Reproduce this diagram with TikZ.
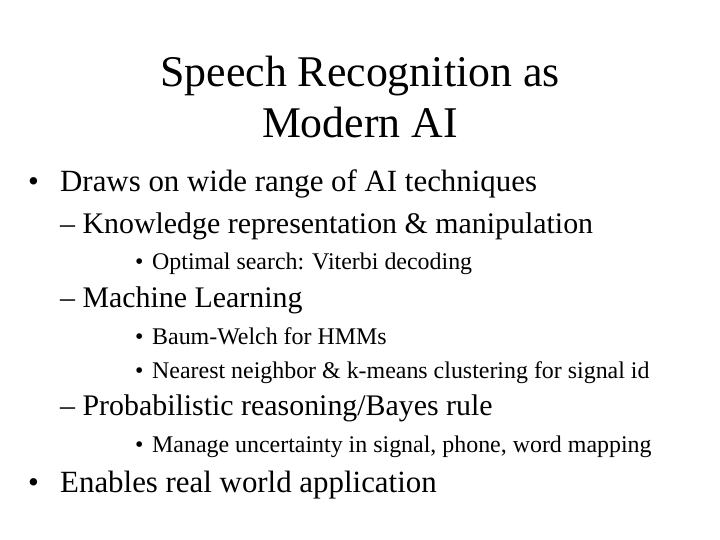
\documentclass[tikz,border=0pt]{standalone}
\usepackage{fontspec}
\setmainfont{Liberation Serif}
\begin{document}
\begin{tikzpicture}[x=1bp,y=-1bp,
  every node/.style={inner sep=0pt,anchor=base west},
  title/.style={font=\fontsize{44}{44}\selectfont,anchor=base},
  lone/.style={font=\fontsize{31}{31}\selectfont},
  ltwo/.style={font=\fontsize{30}{30}\selectfont},
  lthree/.style={font=\fontsize{24}{24}\selectfont}]
  \useasboundingbox (0,0) rectangle (720,540);
  \node[title] (t1) at (360,87) {Speech Recognition as};
  \node[title] (t2) at (360,138) {Modern AI};
  % first level
  \node[lone] (b1) at (28,192) {\textbullet};
  \node[lone] (a1) at (60,192) {Draws on wide range of AI techniques};
  \node[ltwo] (a2) at (60,234) {– Knowledge representation \& manipulation};
  \node[lthree] (b3) at (135,270) {\textbullet};
  \node[lthree] (a3) at (152,270) {Optimal search: Viterbi decoding};
  \node[ltwo] (a4) at (60,307) {– Machine Learning};
  \node[lthree] (b5) at (135,344) {\textbullet};
  \node[lthree] (a5) at (152,344) {Baum-Welch for HMMs};
  \node[lthree] (b6) at (135,378) {\textbullet};
  \node[lthree] (a6) at (152,378) {Nearest neighbor \& k-means clustering for signal id};
  \node[ltwo] (a7) at (60,415) {– Probabilistic reasoning/Bayes rule};
  \node[lthree] (b8) at (135,452) {\textbullet};
  \node[lthree] (a8) at (152,452) {Manage uncertainty in signal, phone, word mapping};
  \node[lone] (b9) at (28,492) {\textbullet};
  \node[lone] (a9) at (60,492) {Enables real world application};
\end{tikzpicture}
\end{document}
